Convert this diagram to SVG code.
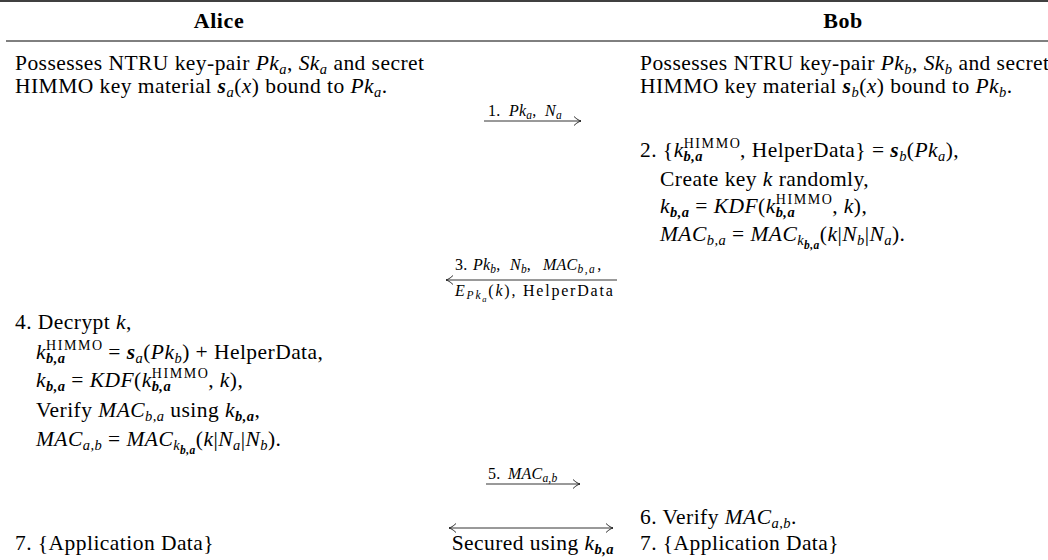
<svg xmlns="http://www.w3.org/2000/svg" width="1048" height="560" viewBox="0 0 1048 560">
<style>
.t{font-family:"Liberation Serif","DejaVu Serif",serif;font-size:21.5px;letter-spacing:0.45px;fill:#000}
.h{font-size:22px;font-weight:bold;letter-spacing:0.6px}
.s{font-size:16px;letter-spacing:0.2px}
.i{font-style:italic}
.bi{font-weight:bold;font-style:italic}
.sub{font-size:14.5px;baseline-shift:-4px}
.ssub{font-size:11.5px;baseline-shift:-7.5px}
.sup{font-size:14px;baseline-shift:9px;letter-spacing:1.6px}
.lsub{font-size:11.5px;baseline-shift:-3px}
.lssub{font-size:8.5px;baseline-shift:-6px}
.rule{stroke:#000}
.arr{stroke:#000;stroke-width:0.8;fill:none}
</style>
<defs>
<marker id="tip" markerUnits="userSpaceOnUse" viewBox="-9 -6 10 12" refX="0" refY="0" markerWidth="10" markerHeight="12" orient="auto-start-reverse">
<path d="M-7,-4.5 C-4,-1.5 -1.5,-0.5 0,0 M-7,4.5 C-4,1.5 -1.5,0.5 0,0" fill="none" stroke="#000" stroke-width="0.8"/>
</marker>
</defs>
<g id="rules">
<line class="rule" x1="0" y1="1" x2="1048" y2="1" stroke-width="1.6"/>
<line class="rule" x1="6" y1="41" x2="1048" y2="41" stroke-width="1"/>
</g>
<g id="alice-header"><text class="t h" x="219" y="28" text-anchor="middle">Alice</text></g>
<g id="bob-header"><text class="t h" x="843" y="28" text-anchor="middle">Bob</text></g>
<g id="alice-1">
<text class="t" x="15" y="70">Possesses NTRU key-pair <tspan class="i">Pk</tspan><tspan class="sub i">a</tspan>, <tspan class="i">Sk</tspan><tspan class="sub i">a</tspan> and secret</text>
<text class="t" x="15" y="93">HIMMO key material <tspan class="bi">s</tspan><tspan class="sub i">a</tspan>(<tspan class="i">x</tspan>) bound to <tspan class="i">Pk</tspan><tspan class="sub i">a</tspan>.</text>
</g>
<g id="bob-1">
<text class="t" x="640" y="70">Possesses NTRU key-pair <tspan class="i">Pk</tspan><tspan class="sub i">b</tspan>, <tspan class="i">Sk</tspan><tspan class="sub i">b</tspan> and secret</text>
<text class="t" x="640" y="93">HIMMO key material <tspan class="bi">s</tspan><tspan class="sub i">b</tspan>(<tspan class="i">x</tspan>) bound to <tspan class="i">Pk</tspan><tspan class="sub i">b</tspan>.</text>
</g>
<g id="bob-2">
<text class="t" x="640" y="157">2. {<tspan class="i">k</tspan><tspan class="sup">HIMMO</tspan><tspan class="sub bi" dx="-57.8">b,a</tspan><tspan dx="37">, HelperData} = </tspan><tspan class="bi">s</tspan><tspan class="sub i">b</tspan>(<tspan class="i">Pk</tspan><tspan class="sub i">a</tspan>),</text>
<text class="t" x="660" y="186">Create key <tspan class="i">k</tspan> randomly,</text>
<text class="t" x="660" y="213"><tspan class="i">k</tspan><tspan class="sub bi">b,a</tspan> = <tspan class="i">KDF</tspan>(<tspan class="i">k</tspan><tspan class="sup">HIMMO</tspan><tspan class="sub bi" dx="-57.8">b,a</tspan><tspan dx="37">, </tspan><tspan class="i">k</tspan>),</text>
<text class="t" x="660" y="241"><tspan class="i">MAC</tspan><tspan class="sub i">b,a</tspan> = <tspan class="i">MAC</tspan><tspan class="sub i">k</tspan><tspan class="ssub bi">b,a</tspan>(<tspan class="i">k</tspan>|<tspan class="i">N</tspan><tspan class="sub i">b</tspan>|<tspan class="i">N</tspan><tspan class="sub i">a</tspan>).</text>
</g>
<g id="alice-4">
<text class="t" x="15" y="329">4. Decrypt <tspan class="i">k</tspan>,</text>
<text class="t" x="36" y="359"><tspan class="i">k</tspan><tspan class="sup">HIMMO</tspan><tspan class="sub bi" dx="-57.8">b,a</tspan><tspan dx="37"> = </tspan><tspan class="bi">s</tspan><tspan class="sub i">a</tspan>(<tspan class="i">Pk</tspan><tspan class="sub i">b</tspan>) + HelperData,</text>
<text class="t" x="36" y="387"><tspan class="i">k</tspan><tspan class="sub bi">b,a</tspan> = <tspan class="i">KDF</tspan>(<tspan class="i">k</tspan><tspan class="sup">HIMMO</tspan><tspan class="sub bi" dx="-57.8">b,a</tspan><tspan dx="37">, </tspan><tspan class="i">k</tspan>),</text>
<text class="t" x="36" y="417">Verify <tspan class="i">MAC</tspan><tspan class="sub i">b,a</tspan> using <tspan class="i">k</tspan><tspan class="sub bi">b,a</tspan>,</text>
<text class="t" x="36" y="446"><tspan class="i">MAC</tspan><tspan class="sub i">a,b</tspan> = <tspan class="i">MAC</tspan><tspan class="sub i">k</tspan><tspan class="ssub bi">b,a</tspan>(<tspan class="i">k</tspan>|<tspan class="i">N</tspan><tspan class="sub i">a</tspan>|<tspan class="i">N</tspan><tspan class="sub i">b</tspan>).</text>
</g>
<g id="bob-6">
<text class="t" x="640" y="524">6. Verify <tspan class="i">MAC</tspan><tspan class="sub i">a,b</tspan>.</text>
</g>
<g id="alice-7"><text class="t" x="15" y="550">7. {Application Data}</text></g>
<g id="bob-7"><text class="t" x="640" y="550">7. {Application Data}</text></g>
<g id="connectors">
<line class="arr" x1="484" y1="121" x2="581" y2="121" marker-end="url(#tip)"/>
<text class="t s" x="488" y="116">1.<tspan x="509" class="i">Pk</tspan><tspan class="lsub i">a</tspan>,<tspan x="545" class="i">N</tspan><tspan class="lsub i">a</tspan></text>
<line class="arr" x1="617" y1="280" x2="446" y2="280" marker-end="url(#tip)"/>
<text class="t s" x="455" y="270">3.<tspan x="473" class="i">Pk</tspan><tspan class="lsub i">b</tspan>,<tspan x="510" class="i">N</tspan><tspan class="lsub i">b</tspan>,<tspan x="543" class="i">MAC</tspan><tspan class="lsub i" style="letter-spacing:1.5px">b,a</tspan><tspan dx="1">,</tspan></text>
<text class="t s" x="455" y="296" textLength="158" lengthAdjust="spacing"><tspan class="i">E</tspan><tspan class="lsub i">Pk</tspan><tspan class="lssub i">a</tspan>(<tspan class="i">k</tspan>), HelperData</text>
<line class="arr" x1="486" y1="484" x2="580" y2="484" marker-end="url(#tip)"/>
<text class="t s" x="488" y="479">5.<tspan x="508" class="i">MAC</tspan><tspan class="lsub i">a,b</tspan></text>
<line class="arr" x1="449" y1="528" x2="613" y2="528" marker-start="url(#tip)" marker-end="url(#tip)"/>
<text class="t" x="614" y="550" text-anchor="end">Secured using <tspan class="i">k</tspan><tspan class="sub bi">b,a</tspan></text>
</g>
</svg>
